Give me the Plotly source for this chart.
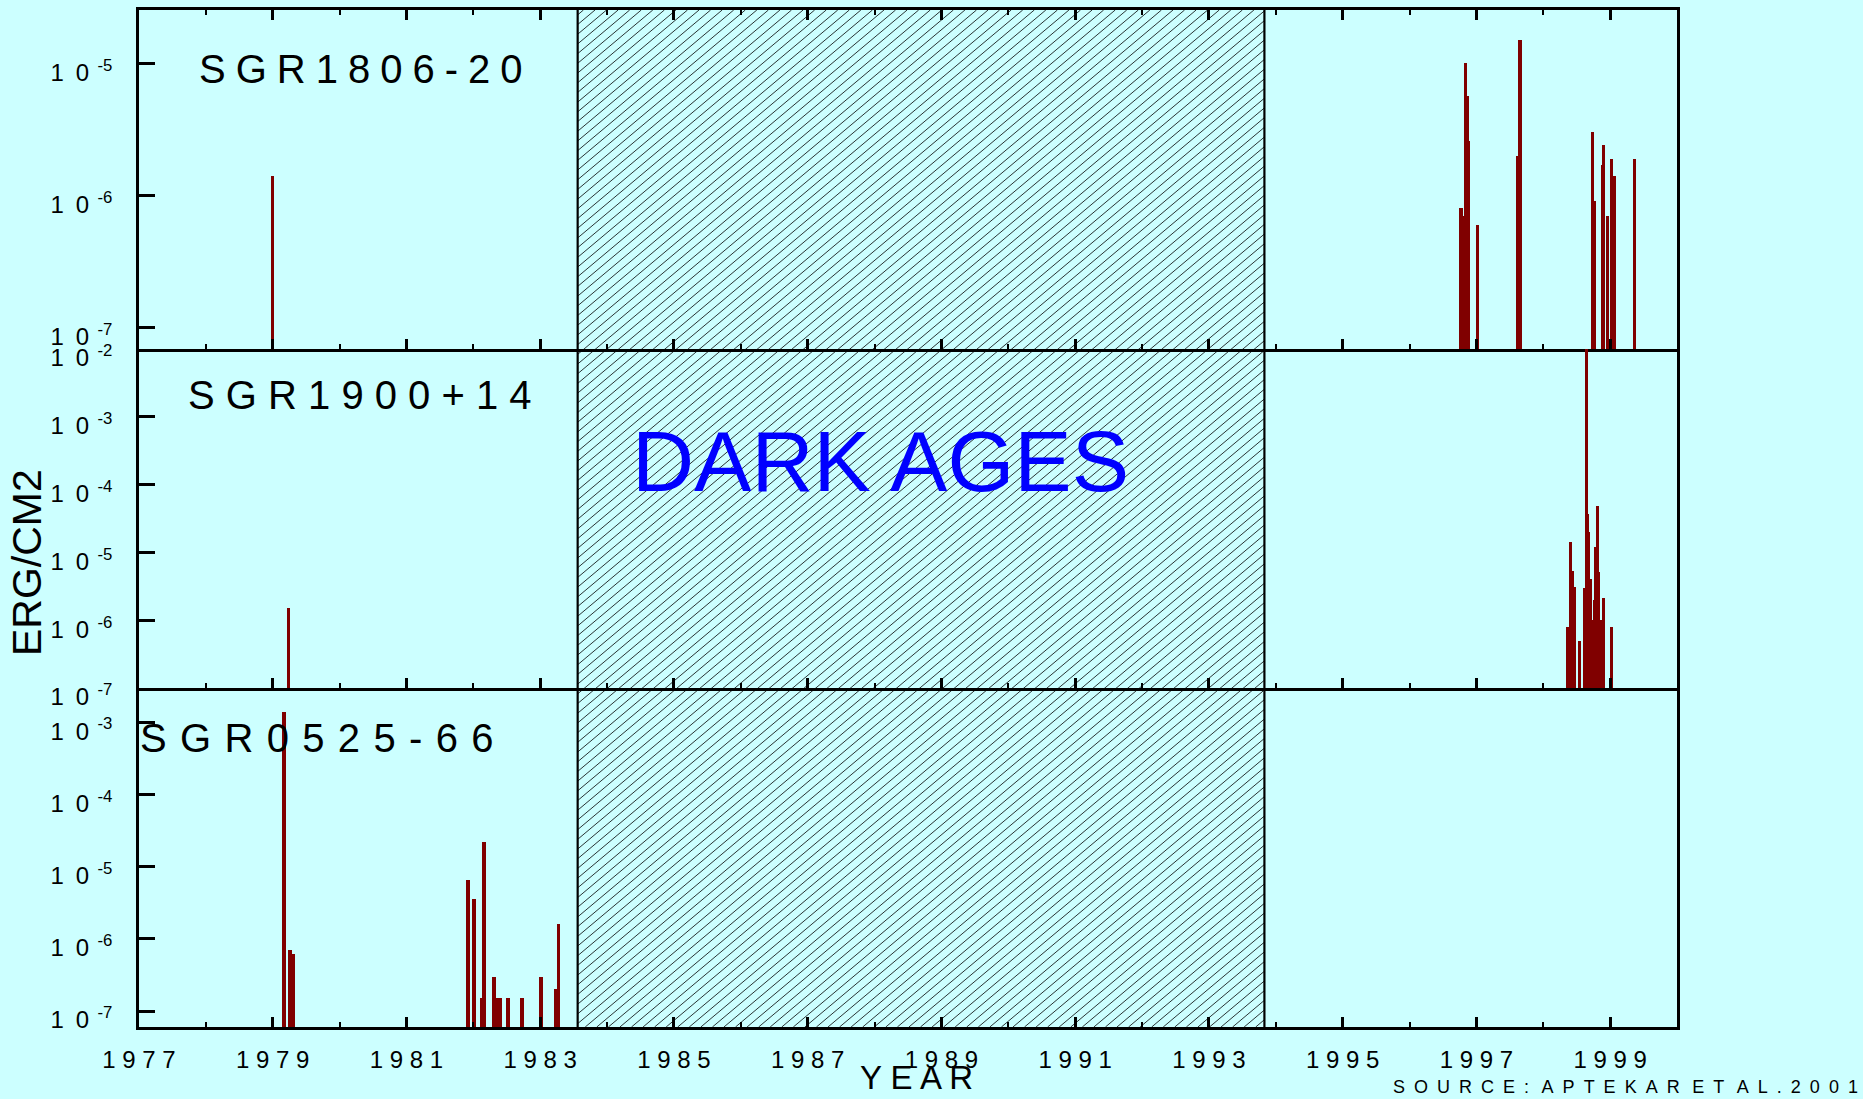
import numpy as np
import plotly.graph_objects as go

# ---------------------------------------------------------------
# Burst fluences (erg/cm^2) versus time (decimal year), per source
# ---------------------------------------------------------------
sgr1806_year = [1979.00, 1996.77, 1996.81, 1996.84, 1996.87, 1996.88, 1997.02,
                1997.62, 1997.65, 1998.74, 1998.77, 1998.89, 1998.90, 1998.96,
                1999.02, 1999.06, 1999.36]
sgr1806_flux = [1.4e-6, 8.0e-7, 7.0e-7, 1.0e-5, 5.7e-6, 2.6e-6, 6.0e-7,
                2.0e-6, 1.5e-5, 3.0e-6, 9.0e-7, 1.7e-6, 2.4e-6, 7.0e-7,
                1.9e-6, 1.4e-6, 1.9e-6]

sgr1900_year = [1979.24, 1998.37, 1998.41, 1998.43, 1998.46, 1998.54, 1998.62,
                1998.65, 1998.66, 1998.67, 1998.71, 1998.72, 1998.77, 1998.79,
                1998.81, 1998.83, 1998.85, 1998.90, 1999.02]
sgr1900_flux = [1.5e-6, 8.0e-7, 1.4e-5, 5.4e-6, 3.1e-6, 5.0e-7, 3.0e-6,
                1.0e-2, 3.7e-5, 2.0e-5, 4.0e-6, 1.0e-6, 2.0e-6, 1.2e-5,
                4.9e-5, 5.2e-6, 1.0e-6, 2.1e-6, 8.0e-7]

sgr0525_year = [1979.17, 1979.18, 1979.26, 1979.31, 1981.92, 1982.01, 1982.13,
                1982.16, 1982.31, 1982.36, 1982.41, 1982.52, 1982.73, 1983.01,
                1983.23, 1983.27]
sgr0525_flux = [1.4e-3, 6.4e-6, 6.9e-7, 6.2e-7, 6.6e-6, 3.6e-6, 1.5e-7,
                2.2e-5, 3.0e-7, 1.5e-7, 1.5e-7, 1.5e-7, 1.5e-7, 3.0e-7,
                2.0e-7, 1.6e-6]

source_names = ["SGR1806-20", "SGR1900+14", "SGR0525-66"]

# gap in coverage between the two observing eras
dark_ages = [1983.56, 1993.83]

# axis ticks
year_major = list(range(1977, 2000, 2))
year_minor = list(range(1978, 2001, 2))
year_labels = [" ".join(str(y)) for y in year_major]

top_exp = [-5, -6, -7]
mid_exp = [-2, -3, -4, -5, -6, -7]
bot_exp = [-3, -4, -5, -6, -7]

# ---------------------------------------------------------------
# page geometry (pixels)
# ---------------------------------------------------------------
W, H = 1863, 1099
L, R, T, B = 139, 1677, 10, 1027
X_RANGE = [1977, 2000]
TOP_RANGE = [-7.164, -4.596]
MID_RANGE = [-7.0, -2.0]
BOT_RANGE = [-7.221, -2.528]

BG = "#CCFFFF"
BAR = "#800000"
FONT = "Liberation Sans, Arial, Helvetica, sans-serif"


def px_x(p):
    return (p - L) / (R - L)


def px_y(p):
    return (B - p) / (B - T)


def year_px(y):
    return L + (y - X_RANGE[0]) / (X_RANGE[1] - X_RANGE[0]) * (R - L)


def exp_labels(exps):
    return [f"1\u20020<sup>\u2002{e}</sup>" for e in exps]


def spaced(text, gap):
    return gap.join(text)


fig = go.Figure()

panels = [
    (sgr1806_year, sgr1806_flux, "x", "y", TOP_RANGE),
    (sgr1900_year, sgr1900_flux, "x2", "y2", MID_RANGE),
    (sgr0525_year, sgr0525_flux, "x3", "y3", BOT_RANGE),
]
for yrs, flux, xa, ya, rng in panels:
    floor = 10 ** rng[0]
    fig.add_trace(go.Bar(
        x=yrs,
        y=[f - floor for f in flux],
        base=[floor] * len(flux),
        width=0.05,
        marker=dict(color=BAR, line=dict(width=0)),
        xaxis=xa, yaxis=ya,
        showlegend=False,
        hoverinfo="skip",
    ))


def x_axis(anchor, mirror, labels):
    return dict(
        anchor=anchor, domain=[0, 1], range=X_RANGE, automargin=False,
        showgrid=False, zeroline=False,
        showline=True, linecolor="black", linewidth=2.5, mirror=mirror,
        ticks="inside", ticklen=10, tickwidth=2.5, tickcolor="black",
        tickvals=year_major, ticktext=year_labels,
        showticklabels=labels,
        tickfont=dict(family=FONT, size=24, color="black"),
        ticklabelstandoff=9,
        minor=dict(tickvals=year_minor, ticks="inside", ticklen=5,
                   tickwidth=1.5, tickcolor="black"),
    )


def y_axis(anchor, domain, rng, exps):
    return dict(
        anchor=anchor, domain=domain, type="log", range=rng, automargin=False,
        showgrid=False, zeroline=False,
        showline=True, linecolor="black", linewidth=2.5, mirror=True,
        ticks="inside", ticklen=16, tickwidth=2.5, tickcolor="black",
        tickvals=[10.0 ** e for e in exps], ticktext=exp_labels(exps),
        tickfont=dict(family=FONT, size=24, color="black"),
        ticklabelstandoff=19, ticklabelshift=9,
    )


# hatch lines filling the coverage gap across all three panels
def hatch(x0, x1, y0, y1, step=9.7, angle=40.0):
    t = np.tan(np.radians(angle))
    out = []
    c_lo = y0 + t * x0
    c_hi = y1 + t * x1
    for c in np.arange(c_lo + step / 2, c_hi, step):
        xa = max(x0, (c - y1) / t)
        xb = min(x1, (c - y0) / t)
        if xb <= xa:
            continue
        out.append(dict(
            type="line", xref="paper", yref="paper", layer="below",
            x0=px_x(xa), y0=px_y(c - t * xa), x1=px_x(xb), y1=px_y(c - t * xb),
            line=dict(color="#000000", width=0.8),
        ))
    return out


gx0, gx1 = year_px(dark_ages[0]), year_px(dark_ages[1])
shapes = hatch(gx0, gx1, T, B)
for gx in (gx0, gx1):
    shapes.append(dict(type="line", xref="paper", yref="paper", layer="above",
                       x0=px_x(gx), x1=px_x(gx), y0=0, y1=1,
                       line=dict(color="black", width=2.2)))

# source names, letter-spaced, one per panel
name_gaps = ["\u2005", " ", "\u2004"]
name_pos = [(197, 69.5), (186, 394.5), (138, 737.5)]
annotations = []
for name, gap, (xp, yp) in zip(source_names, name_gaps, name_pos):
    annotations.append(dict(text=spaced(name, gap), xref="paper", yref="paper",
                            x=px_x(xp), y=px_y(yp), xanchor="left", yanchor="middle",
                            showarrow=False, font=dict(family=FONT, size=40, color="black")))

en, thin = "\u2002", "\u2009"
source_text = (spaced("SOURCE:", en) + en + thin + spaced("APTEKAR", en) + en + thin
               + spaced("ET", en) + en + thin + spaced("AL.", en) + en + spaced("2001", en))

annotations += [
    dict(text="DARK AGES", xref="paper", yref="paper", x=px_x(880), y=px_y(461),
         xanchor="center", yanchor="middle", showarrow=False,
         font=dict(family=FONT, size=86, color="#0000FF")),
    dict(text="ERG/CM2", xref="paper", yref="paper", x=px_x(27), y=px_y(563),
         xanchor="center", yanchor="middle", textangle=-90, showarrow=False,
         font=dict(family=FONT, size=41, color="black")),
    dict(text="Y E A R", xref="paper", yref="paper", x=px_x(858), y=px_y(1077),
         xanchor="left", yanchor="middle", showarrow=False,
         font=dict(family=FONT, size=33, color="black")),
    dict(text=source_text, xref="paper", yref="paper", x=px_x(1860), y=px_y(1087),
         xanchor="right", yanchor="middle", showarrow=False,
         font=dict(family=FONT, size=18, color="black")),
]

fig.update_layout(
    width=W, height=H,
    margin=dict(l=L, r=W - R, t=T, b=H - B, pad=0, autoexpand=False),
    paper_bgcolor=BG, plot_bgcolor="rgba(0,0,0,0)",
    barmode="overlay", bargap=0,
    showlegend=False,
    # the top panel carries ticks on both edges; lower panels share the
    # boundary line drawn by the panel above
    xaxis=x_axis("y", "ticks", False),
    xaxis2=x_axis("y2", False, False),
    xaxis3=x_axis("y3", False, True),
    yaxis=y_axis("x", [2 / 3, 1], TOP_RANGE, top_exp),
    yaxis2=y_axis("x2", [1 / 3, 2 / 3], MID_RANGE, mid_exp),
    yaxis3=y_axis("x3", [0, 1 / 3], BOT_RANGE, bot_exp),
    shapes=shapes,
    annotations=annotations,
)

fig.write_html("out.html")
